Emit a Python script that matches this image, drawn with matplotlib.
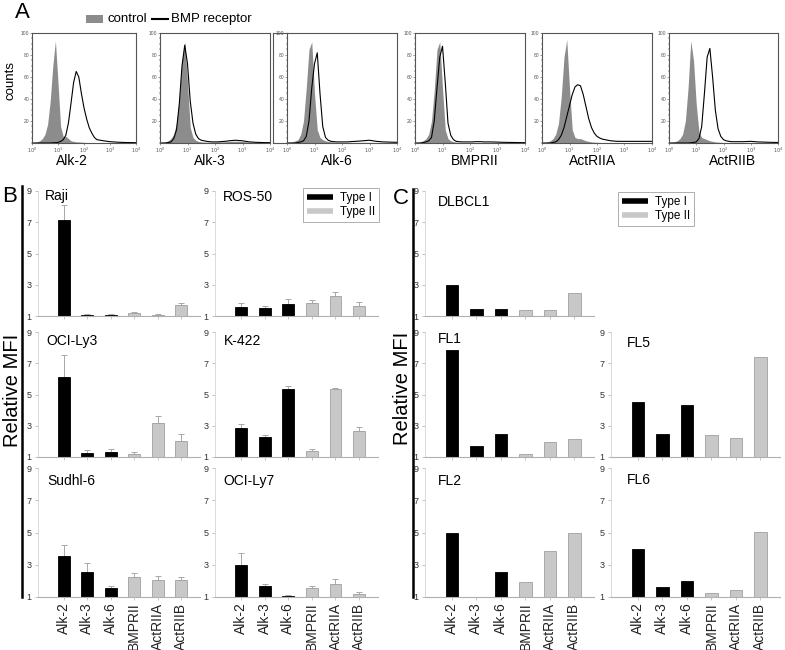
import numpy as np
import matplotlib
matplotlib.use('Agg')
import matplotlib.pyplot as plt
from matplotlib.lines import Line2D
from matplotlib.patches import Rectangle

plt.rcParams['font.family'] = ['Liberation Sans', 'DejaVu Sans']

# ---------------- data ----------------
receptors = ['Alk-2', 'Alk-3', 'Alk-6', 'BMPRII', 'ActRIIA', 'ActRIIB']
rtype = ['I', 'I', 'I', 'II', 'II', 'II']

# flow histograms (log10 fluorescence grid, counts)
hist_log = [0.0, 0.1, 0.2, 0.3, 0.4, 0.5, 0.6, 0.7, 0.8, 0.9,
            1.0, 1.1, 1.2, 1.3, 1.4, 1.5, 1.6, 1.7, 1.8, 1.9,
            2.0, 2.1, 2.2, 2.3, 2.4, 2.5, 2.75, 3.0, 3.25, 3.5, 3.75, 4.0]
ctrl_alk2 = [0, 0.5, 1, 2, 4, 8, 17, 38, 70, 93, 55, 15, 6, 6, 4, 2, 1.5, 1, 1, 0.8,
             0.6, 0.5, 0.4, 0.3, 0.3, 0.2, 0.2, 0.2, 0.1, 0.1, 0.1, 0]
rec_alk2 = [0, 0, 0, 0, 0, 0, 0, 0, 0.2, 0.3, 0.5, 1.5, 3, 7, 18, 36, 55, 65, 60, 45,
            32, 22, 14, 9, 5, 3, 2, 1.2, 0.8, 0.5, 0.4, 0.3]
ctrl_alk3 = [0, 0.5, 1, 2, 4, 8, 18, 40, 75, 92, 55, 14, 5, 2.5, 1.5, 1, 0.8, 0.7, 0.7, 0.7,
             0.8, 0.9, 1, 1, 1.2, 1.4, 1.6, 1.4, 0.8, 0.5, 0.3, 0]
rec_alk3 = [0, 0, 0, 0.5, 1, 4, 12, 35, 70, 89, 72, 38, 18, 8, 4, 2.5, 2, 1.5, 1.2, 1,
            1, 1, 1.2, 1.4, 1.6, 2, 2.5, 2, 1, 0.6, 0.4, 0.3]
ctrl_alk6 = [0, 0.5, 1, 2, 3, 8, 20, 50, 85, 92, 45, 12, 5, 3, 2, 1.5, 1, 0.8, 0.6, 0.5,
             0.5, 0.5, 0.5, 0.5, 0.5, 0.5, 0.6, 0.6, 0.4, 0.3, 0.2, 0]
rec_alk6 = [0, 0, 0, 0, 0.5, 1, 2, 6, 20, 50, 72, 82, 45, 15, 5, 2.5, 1.5, 1.2, 1, 1,
            1, 1, 1, 1.2, 1.4, 1.5, 2, 2.5, 1.5, 1, 0.8, 0.6]
ctrl_bmpr2 = [0, 0.5, 1, 2, 4, 8, 20, 48, 85, 92, 50, 12, 4, 2, 1.2, 0.8, 0.6, 0.5, 0.4, 0.4,
              0.3, 0.3, 0.3, 0.3, 0.3, 0.3, 0.3, 0.3, 0.2, 0.2, 0.1, 0]
rec_bmpr2 = [0, 0, 0, 0.5, 1, 2, 5, 20, 50, 78, 88, 55, 18, 7, 3, 1.5, 1.2, 1, 1, 1,
             1, 1, 1.2, 1.2, 1.2, 1, 1, 0.8, 0.6, 0.5, 0.4, 0.3]
ctrl_act2a = [0, 0.5, 1, 2, 4, 8, 18, 42, 78, 94, 50, 12, 5, 4, 4, 3, 2, 1.5, 1, 0.8,
              0.6, 0.5, 0.4, 0.3, 0.3, 0.3, 0.3, 0.3, 0.3, 0.2, 0.2, 0]
rec_act2a = [0, 0, 0, 0, 0.5, 1, 3, 7, 14, 24, 34, 44, 51, 53, 52, 44, 33, 22, 14, 9,
             6, 4.5, 3.5, 3, 2.5, 2, 1.5, 1.5, 1.5, 1.5, 1.5, 1.5]
ctrl_act2b = [0, 0.5, 1, 2, 4, 8, 20, 50, 93, 75, 35, 10, 5, 4, 3, 2, 1.5, 1, 0.8, 0.6,
              0.5, 0.5, 0.4, 0.4, 0.4, 0.4, 0.4, 0.5, 0.4, 0.3, 0.2, 0]
rec_act2b = [0, 0, 0, 0, 0, 0, 0, 0, 0.2, 0.5, 1, 4, 15, 45, 78, 86, 60, 30, 13, 6,
             3, 2, 1.5, 1.2, 1.2, 1.2, 1.2, 1.5, 1, 0.8, 0.6, 0.5]

hist_ctrl = [ctrl_alk2, ctrl_alk3, ctrl_alk6, ctrl_bmpr2, ctrl_act2a, ctrl_act2b]
hist_rec = [rec_alk2, rec_alk3, rec_alk6, rec_bmpr2, rec_act2a, rec_act2b]

# relative MFI, cell lines (mean, sd)
raji = [7.13, 1.06, 1.06, 1.17, 1.04, 1.70]
raji_sd = [1.0, 0.1, 0.1, 0.1, 0.06, 0.15]
ros50 = [1.60, 1.53, 1.77, 1.81, 2.28, 1.64]
ros50_sd = [0.25, 0.08, 0.32, 0.21, 0.23, 0.23]
ocily3 = [6.1, 1.28, 1.32, 1.17, 3.15, 2.0]
ocily3_sd = [1.45, 0.15, 0.17, 0.13, 0.47, 0.45]
k422 = [2.85, 2.30, 5.34, 1.40, 5.38, 2.68]
k422_sd = [0.24, 0.08, 0.21, 0.09, 0.05, 0.26]
sudhl6 = [3.57, 2.55, 1.53, 2.23, 2.06, 2.04]
sudhl6_sd = [0.64, 0.54, 0.17, 0.28, 0.24, 0.19]
ocily7 = [2.98, 1.66, 1.09, 1.53, 1.79, 1.21]
ocily7_sd = [0.74, 0.15, 0.06, 0.17, 0.34, 0.11]

# relative MFI, primary samples
dlbcl1 = [2.98, 1.43, 1.45, 1.38, 1.38, 2.47]
fl1 = [7.83, 1.68, 2.49, 1.21, 1.98, 2.17]
fl5 = [4.53, 2.49, 4.32, 2.38, 2.23, 7.40]
fl2 = [4.96, np.nan, 2.55, 1.94, 3.83, 5.00]
fl6 = [3.96, 1.62, 1.98, 1.23, 1.43, 5.04]

# ---------------- layout helpers (pixels) ----------------
W, H = 785, 650
fig = plt.figure(figsize=(W / 100, H / 100), dpi=100)

def box(l, r, t, b):
    return [l / W, 1 - b / H, (r - l) / W, (b - t) / H]

def fx(x):
    return x / W

def fy(y):
    return 1 - y / H

def vline(x, y0, y1, **kw):
    fig.add_artist(Line2D([fx(x), fx(x)], [fy(y0), fy(y1)], transform=fig.transFigure, **kw))

def hline(y, x0, x1, **kw):
    fig.add_artist(Line2D([fx(x0), fx(x1)], [fy(y), fy(y)], transform=fig.transFigure, **kw))

# ---------------- panel A ----------------
hist_x = [(32, 136), (160, 270), (287, 397), (415, 525), (542, 652), (669, 778)]
hist_lab_x = [72, 210, 337, 475, 593, 733]
xs = 10 ** np.array(hist_log)
for i in range(6):
    l, r = hist_x[i]
    ax = fig.add_axes(box(l, r, 33, 143))
    ax.fill_between(xs, hist_ctrl[i], color='#8c8c8c', lw=0)
    ax.plot(xs, hist_rec[i], color='k', lw=0.8)
    ax.set_xscale('log')
    ax.set_xlim(1, 1e4)
    ax.set_ylim(0, 100)
    ax.set_xticks([1, 10, 100, 1000, 10000])
    ax.set_xticklabels([r'$10^0$', r'$10^1$', r'$10^2$', r'$10^3$', r'$10^4$'])
    ax.set_yticks([20, 40, 60, 80, 100])
    ax.set_yticks(np.arange(0, 101, 5), minor=True)
    ax.tick_params(labelsize=3.6, colors='#555555', length=1.5, width=0.4, pad=0.5)
    ax.tick_params(which='minor', length=0.8, width=0.3)
    for s in ax.spines.values():
        s.set_color('#555555')
        s.set_linewidth(0.8)
    fig.text(fx(hist_lab_x[i]), fy(161), receptors[i], fontsize=10, ha='center', va='center')

# outer border of the Alk-6 histogram
vline(273, 33, 143, color='#555555', lw=0.8)
hline(33, 273, 287, color='#555555', lw=0.8)
hline(143, 273, 287, color='#555555', lw=0.8)

fig.text(fx(22), fy(12), 'A', fontsize=16, ha='center', va='center')
fig.text(fx(11), fy(80), 'counts', fontsize=9.5, rotation=90, ha='center', va='center')
fig.add_artist(Rectangle((fx(86), fy(23)), fx(17), 8 / H, transform=fig.transFigure,
                         facecolor='#8c8c8c', edgecolor='none'))
fig.text(fx(107), fy(19), 'control', fontsize=9.5, ha='left', va='center')
hline(19, 152, 168, color='k', lw=1.5)
fig.text(fx(171), fy(19), 'BMP receptor', fontsize=9.5, ha='left', va='center')

# ---------------- panels B and C ----------------
rows = [(191, 316), (332, 457), (468, 597)]
colsB = [(38, 200), (215, 378)]
colsC = [(425, 594), (611, 780)]

black = '#000000'
grey = '#c8c8c8'
pos = np.arange(6)

def bar_panel(col, row, vals, title, title_xy, sd=None, labels=False):
    l, r = col
    t, b = row
    ax = fig.add_axes(box(l, r, t, b))
    colors = [black if k == 'I' else grey for k in rtype]
    edges = ['#000000' if k == 'I' else '#a0a0a0' for k in rtype]
    if sd is not None:
        ax.errorbar(pos, vals, yerr=[np.zeros(6), sd], fmt='none', ecolor='#a8a8a8',
                    elinewidth=0.7, capsize=2.5, capthick=0.7, zorder=1)
    ax.bar(pos, vals, width=0.5, color=colors, edgecolor=edges, linewidth=0.6, zorder=2)
    ax.set_xlim(-1.1, 5.8)
    ax.set_ylim(1, 9)
    ax.set_yticks([1, 3, 5, 7, 9])
    ax.set_xticks(pos)
    if labels:
        ax.set_xticklabels(receptors, rotation=90, fontsize=10, color='#222222')
    else:
        ax.set_xticklabels([])
    ax.tick_params(axis='y', labelsize=6.5, labelcolor='#333333', color='#aaaaaa',
                   length=2.5, width=0.5, pad=2)
    ax.tick_params(axis='x', color='#b0b0b0', length=2, width=0.5, pad=2)
    ax.spines['top'].set_visible(False)
    ax.spines['right'].set_visible(False)
    ax.spines['left'].set_color('#d4d4d4')
    ax.spines['left'].set_linewidth(0.6)
    ax.spines['bottom'].set_color('#b0b0b0')
    ax.spines['bottom'].set_linewidth(0.8)
    fig.text(fx(title_xy[0]), fy(title_xy[1]), title, fontsize=10, ha='left', va='center')
    return ax

bar_panel(colsB[0], rows[0], raji, 'Raji', (45, 196), raji_sd)
axr = bar_panel(colsB[1], rows[0], ros50, 'ROS-50', (223, 197), ros50_sd)
bar_panel(colsB[0], rows[1], ocily3, 'OCI-Ly3', (46, 341), ocily3_sd)
bar_panel(colsB[1], rows[1], k422, 'K-422', (224, 341), k422_sd)
bar_panel(colsB[0], rows[2], sudhl6, 'Sudhl-6', (47, 481), sudhl6_sd, labels=True)
bar_panel(colsB[1], rows[2], ocily7, 'OCI-Ly7', (223, 481), ocily7_sd, labels=True)

axd = bar_panel(colsC[0], rows[0], dlbcl1, 'DLBCL1', (438, 202))
bar_panel(colsC[0], rows[1], fl1, 'FL1', (438, 339))
bar_panel(colsC[1], rows[1], fl5, 'FL5', (627, 343))
bar_panel(colsC[0], rows[2], fl2, 'FL2', (438, 481), labels=True)
bar_panel(colsC[1], rows[2], fl6, 'FL6', (627, 480), labels=True)

handles = [Line2D([], [], color=black, lw=4, solid_capstyle='butt'),
           Line2D([], [], color=grey, lw=4, solid_capstyle='butt')]
for ax, (lx, ty) in [(axr, (303, 188)), (axd, (618, 192))]:
    leg = ax.legend(handles, ['Type I', 'Type II'], loc='upper left',
                    bbox_to_anchor=(fx(lx), fy(ty)), bbox_transform=fig.transFigure,
                    fontsize=8.5, frameon=True, fancybox=False, handlelength=2.2,
                    handletextpad=0.6, borderpad=0.35, labelspacing=0.15, borderaxespad=0)
    leg.get_frame().set_edgecolor('#999999')
    leg.get_frame().set_linewidth(0.7)

# panel letters, side bars and axis titles
fig.text(fx(10), fy(197), 'B', fontsize=16, ha='center', va='center')
fig.text(fx(401), fy(198), 'C', fontsize=16, ha='center', va='center')
vline(22, 186, 597, color='k', lw=1.8)
vline(413, 189, 597, color='k', lw=1.8)
fig.text(fx(13), fy(390), 'Relative MFI', fontsize=14.5, rotation=90, ha='center', va='center')
fig.text(fx(403), fy(388), 'Relative MFI', fontsize=14.5, rotation=90, ha='center', va='center')

fig.savefig('out.png', dpi=100)
